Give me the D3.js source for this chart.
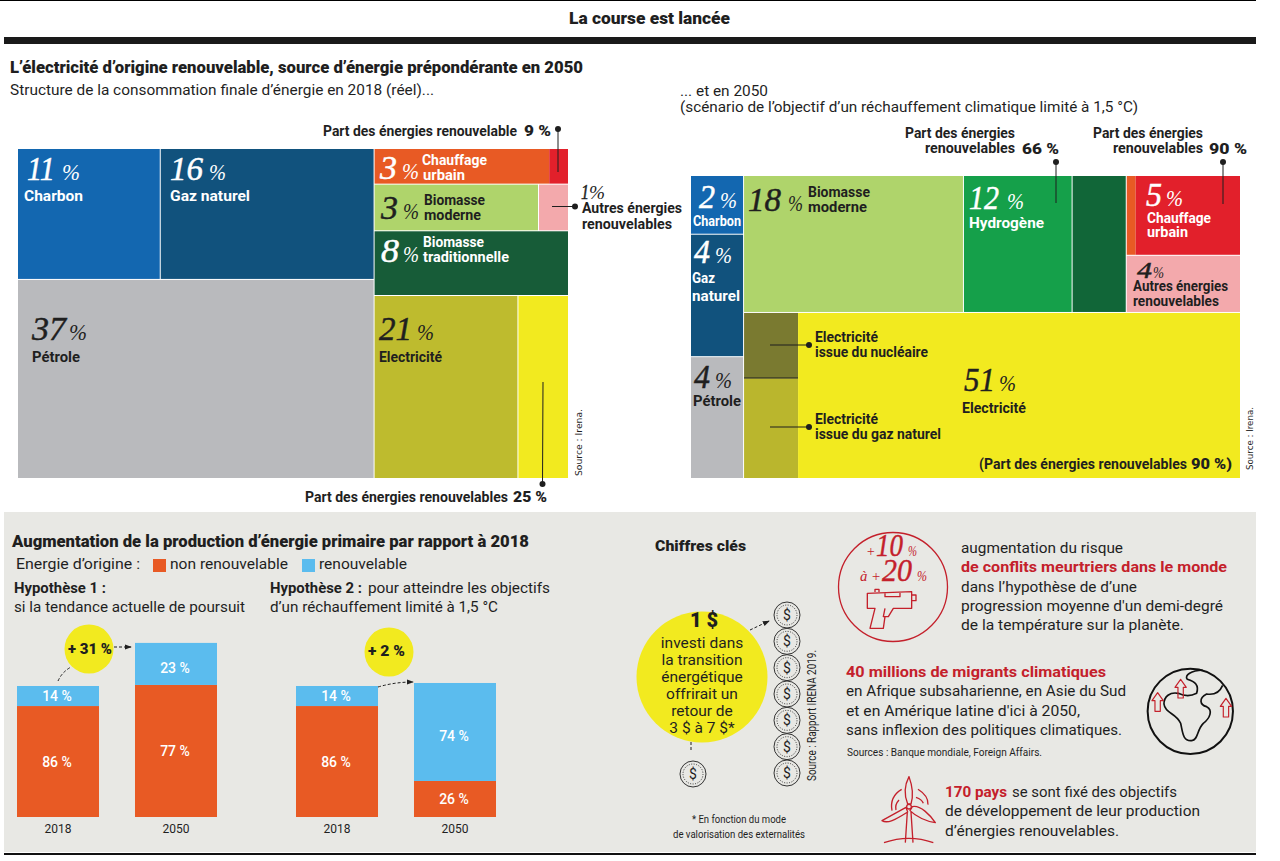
<!DOCTYPE html>
<html>
<head>
<meta charset="utf-8">
<script src="https://cdn.jsdelivr.net/npm/d3@7"></script>
<style>
  body { margin: 0; background: #fff; }
  text { font-family: Roboto, sans-serif; }
</style>
</head>
<body>
<script>
// treemap 2018: paths give the nesting, areas are shares of the drawn surface
const paths2018 = [
  '/r/left/top/charbon', '/r/left/top/gaz', '/r/left/petrole',
  '/r/right/chauffage/chauffage', '/r/right/chauffage/chauffageRen',
  '/r/right/biomasse/moderne', '/r/right/biomasse/autres',
  '/r/right/traditionnelle',
  '/r/right/elec/electricite', '/r/right/elec/electriciteRen'
];
const areas2018 = [10.28, 15.4, 39.05, 3.44, 0.37, 4.22, 0.77, 6.92, 14.48, 5.09];
const colors2018 = ['#1367b0', '#11527d', '#b9babd', '#e85a24', '#e2202b', '#afd46b', '#f3a9ac', '#175c38', '#bebb2e', '#f2ea1f'];

// treemap 2050
const paths2050 = [
  '/r/col1/charbon', '/r/col1/gaz', '/r/col1/petrole',
  '/r/col2/top/biomasse', '/r/col2/top/hydrogene', '/r/col2/top/hydrogeneNon',
  '/r/col2/top/last/chauffage/chauffageNon', '/r/col2/top/last/chauffage/chauffageRen', '/r/col2/top/last/autres',
  '/r/col2/bottom/olive/nucleaire', '/r/col2/bottom/olive/gazNaturel', '/r/col2/bottom/electricite'
];
const areas2050 = [1.87, 3.9, 3.88, 18.07, 8.93, 4.45, 0.43, 5.04, 3.92, 2.13, 3.26, 44.12];
const colors2050 = ['#1367b0', '#11527d', '#b9babd', '#afd46b', '#15a04a', '#116638', '#e85a24', '#e2202b', '#f3a9ac', '#7a7a30', '#bab62d', '#f2ea1f'];

// printed percentages
const shares2018 = {charbon: 11, gaz: 16, petrole: 37, chauffage: 3, moderne: 3, autres: 1, traditionnelle: 8, electricite: 21};
const shares2050 = {charbon: 2, gaz: 4, petrole: 4, biomasse: 18, hydrogene: 12, chauffage: 5, autres: 4, electricite: 51};

// stacked bars, index 2018 = 100
const years = ['2018', '2050'];
const hypo1NonRen = [84.7, 100.8];
const hypo1Ren = [15.3, 32.1];
const hypo2NonRen = [84.7, 27.5];
const hypo2Ren = [15.3, 74.8];
const hypo1NonRenLabels = [86, 77];
const hypo1RenLabels = [14, 23];
const hypo2NonRenLabels = [86, 26];
const hypo2RenLabels = [14, 74];

const coinsColumn = [1, 2, 3, 4, 5, 6, 7];

const width = 1280;
const height = 861;
const ink = '#1f1f1f';
const red = '#c4202b';
const orange = '#e85a24';
const sky = '#5bbcee';
const sun = '#f2ea1f';
const panel = '#e8e8e4';
const narrow = '"Liberation Sans Narrow", Roboto, sans-serif';

const svg = d3.select('body').append('svg')
  .attr('width', width)
  .attr('height', height)
  .style('display', 'block');

svg.append('defs').append('marker')
  .attr('id', 'head')
  .attr('viewBox', '0 0 8 8')
  .attr('refX', 7)
  .attr('refY', 4)
  .attr('markerWidth', 7)
  .attr('markerHeight', 7)
  .attr('orient', 'auto')
  .append('path')
  .attr('d', 'M0,1 L8,4 L0,7 Z')
  .attr('fill', ink);

function label(str, x, y, len, opts = {}) {
  const t = (opts.parent || svg).append('text')
    .attr('x', x)
    .attr('y', y)
    .attr('fill', opts.fill || ink)
    .attr('font-size', opts.size || 14)
    .attr('font-weight', opts.weight || 400)
    .attr('text-anchor', opts.anchor || 'start')
    .text(str);
  if (opts.family) t.style('font-family', opts.family);
  if (opts.italic) t.attr('font-style', 'italic');
  if (len) t.attr('textLength', len).attr('lengthAdjust', 'spacingAndGlyphs');
  return t;
}

// big italic figure followed by a thin percent sign
function figure(n, x, y, len, pctX, pctLen, fill, size = 33, pctSize = 24) {
  label(n, x, y, len, {fill, size, italic: true, family: '"Liberation Serif", serif'})
    .attr('stroke', fill)
    .attr('stroke-width', 0.5);
  label('%', pctX, y, pctLen, {fill, size: pctSize, italic: true, family: '"Liberation Serif", serif'});
}

function leaderDot(x1, y1, x2, y2) {
  svg.append('line')
    .attr('x1', x1).attr('y1', y1).attr('x2', x2).attr('y2', y2)
    .attr('stroke', ink)
    .attr('stroke-width', 1);
  svg.append('circle')
    .attr('cx', x2).attr('cy', y2).attr('r', 3)
    .attr('fill', ink);
}

function drawTreemap(paths, areas, colors, w, h, x, y) {
  const rows = paths.map((p, i) => ({path: p, area: areas[i], color: colors[i], order: i}));
  const root = d3.stratify().path(d => d.path)(rows)
    .sum(d => (d && d.area) || 0)
    // stratify puts implied parents last, put everything back in reading order
    .sort((a, b) => d3.min(a.leaves(), l => l.data.order) - d3.min(b.leaves(), l => l.data.order));
  d3.treemap()
    .tile(d3.treemapSliceDice)
    .size([w, h])
    .paddingInner(d => /(chauffage|olive|bottom)$/.test(d.id) ? 0 : 1)(root);
  svg.append('g')
    .attr('transform', `translate(${x},${y})`)
    .selectAll('rect')
    .data(root.leaves())
    .join('rect')
    .attr('x', d => d.x0)
    .attr('y', d => d.y0)
    .attr('width', d => d.x1 - d.x0)
    .attr('height', d => d.y1 - d.y0)
    .attr('fill', d => d.data.color);
}

// header
svg.append('rect').attr('x', 0).attr('y', 0).attr('width', 1256).attr('height', 1).attr('fill', '#000');
svg.append('rect').attr('x', 4).attr('y', 37).attr('width', 1252).attr('height', 7).attr('fill', '#1a1a1a');
label('La course est lancée', 569, 24, 161, {size: 16, weight: 900});
label('L’électricité d’origine renouvelable, source d’énergie prépondérante en 2050', 10, 73, 573, {size: 16, weight: 900});
label('Structure de la consommation finale d’énergie en 2018 (réel)...', 10, 95, 424, {size: 15});
label('... et en 2050', 680, 96, 88, {size: 15});
label('(scénario de l’objectif d’un réchauffement climatique limité à 1,5 °C)', 680, 112, 458, {size: 15});

// treemaps
drawTreemap(paths2018, areas2018, colors2018, 550, 329, 18, 149);
drawTreemap(paths2050, areas2050, colors2050, 549, 302, 691, 176);
svg.append('line').attr('x1', 744).attr('x2', 798).attr('y1', 378).attr('y2', 378).attr('stroke', ink);

const cond = {size: 15, weight: 700, family: narrow};
const white = {size: 15, weight: 700, fill: '#fff', family: narrow};
const pctBold = {size: 15, weight: 900};

// labels 2018
label('Part des énergies renouvelable', 323, 136, 194, cond);
label('9 %', 524, 136, 27, pctBold);
leaderDot(558, 172, 558, 129);
figure(shares2018.charbon, 27, 180, 28, 62, 18, '#fff');
label('Charbon', 24, 201, 59, white);
figure(shares2018.gaz, 170, 180, 33, 209, 17, '#fff');
label('Gaz naturel', 170, 201, 80, white);
figure(shares2018.chauffage, 380, 179, 17, 402, 17, '#fff');
label('Chauffage', 422, 165, 65, white);
label('urbain', 423, 180, 42, white);
figure(shares2018.moderne, 381, 219, 17, 403, 16, ink);
label('Biomasse', 424, 205, 61, cond);
label('moderne', 424, 220, 57, cond);
figure(shares2018.autres, 581, 199, 8, 589, 16, ink, 21, 18);
label('Autres énergies', 582, 213, 100, cond);
label('renouvelables', 582, 229, 90, cond);
leaderDot(552, 206.5, 575, 206.5);
figure(shares2018.traditionnelle, 381, 262, 18, 403, 16, '#fff');
label('Biomasse', 423, 247, 61, white);
label('traditionnelle', 423, 262, 86, white);
figure(shares2018.petrole, 32, 340, 34, 69, 18, ink);
label('Pétrole', 32, 362, 48, cond);
figure(shares2018.electricite, 379, 340, 33, 417, 17, ink);
label('Electricité', 379, 362, 63, cond);
leaderDot(543, 382, 542.5, 484);
label('Part des énergies renouvelables', 305, 502, 203, cond);
label('25 %', 513, 502, 34, pctBold);
label('Source : Irena.', 0, 0, 67, {size: 9.5, family: '"DejaVu Sans", sans-serif'})
  .attr('transform', 'translate(582,476) rotate(-90)');

// labels 2050
label('Part des énergies', 905, 138, 110, cond);
label('renouvelables', 925, 153, 90, cond);
label('66 %', 1022, 154, 37, pctBold);
leaderDot(1056, 203, 1056, 162);
label('Part des énergies', 1093, 138, 110, cond);
label('renouvelables', 1113, 153, 90, cond);
label('90 %', 1209, 154, 38, pctBold);
leaderDot(1223, 204, 1223, 162);
figure(shares2050.charbon, 699, 208, 16, 720, 17, '#fff');
label('Charbon', 693, 226, 48, white);
figure(shares2050.gaz, 694, 263, 16, 715, 17, '#fff');
label('Gaz', 692, 283, 23, white);
label('naturel', 692, 301, 48, white);
figure(shares2050.petrole, 694, 388, 16, 715, 17, ink);
label('Pétrole', 693, 406, 48, cond);
figure(shares2050.biomasse, 748, 211, 33, 788, 15, ink);
label('Biomasse', 808, 197, 62, cond);
label('moderne', 808, 212, 59, cond);
figure(shares2050.hydrogene, 969, 209, 30, 1007, 17, '#fff');
label('Hydrogène', 969, 228, 75, {size: 15, weight: 700, fill: '#fff'});
figure(shares2050.chauffage, 1146, 206, 16, 1166, 17, '#fff');
label('Chauffage', 1147, 223, 64, {size: 15, weight: 700, fill: '#fff'});
label('urbain', 1147, 237, 41, {size: 15, weight: 700, fill: '#fff'});
figure(shares2050.autres, 1137, 278, 15, 1153, 11, ink, 24, 16);
label('Autres énergies', 1133, 291, 95, cond);
label('renouvelables', 1133, 306, 86, cond);
leaderDot(770, 345, 809, 345);
label('Electricité', 815, 342, 63, cond);
label('issue du nucléaire', 815, 357, 113, cond);
leaderDot(770, 427, 809, 427);
label('Electricité', 815, 424, 63, cond);
label('issue du gaz naturel', 815, 439, 126, cond);
figure(shares2050.electricite, 964, 391, 31, 999, 17, ink);
label('Electricité', 962, 413, 64, cond);
label('(Part des énergies renouvelables', 979, 469, 208, cond);
label('90 %)', 1191, 469, 41, pctBold);
label('Source : Irena.', 0, 0, 63, {size: 9.5, family: '"DejaVu Sans", sans-serif'})
  .attr('transform', 'translate(1253,470) rotate(-90)');

// bottom panel
svg.append('rect').attr('x', 4).attr('y', 512).attr('width', 1252).attr('height', 340).attr('fill', panel);
svg.append('rect').attr('x', 4).attr('y', 853).attr('width', 1252).attr('height', 2).attr('fill', '#111');

label('Augmentation de la production d’énergie primaire par rapport à 2018', 12, 547, 517, {size: 16, weight: 900});
label('Energie d’origine :', 16, 569, 124, {size: 15});
const legend = svg.append('g');
legend.selectAll('rect')
  .data([[153, orange], [302, sky]])
  .join('rect')
  .attr('x', d => d[0]).attr('y', 559)
  .attr('width', 13).attr('height', 13)
  .attr('fill', d => d[1]);
label('non renouvelable', 170, 569, 118, {size: 15});
label('renouvelable', 319, 569, 88, {size: 15});
label('Hypothèse 1 :', 14, 593, 92, {size: 15, weight: 700});
label('si la tendance actuelle de poursuit', 14, 612, 231, {size: 15});
label('Hypothèse 2 :', 270, 593, 92, {size: 15, weight: 700});
label('pour atteindre les objectifs', 368, 593, 182, {size: 15});
label('d’un réchauffement limité à 1,5 °C', 270, 612, 228, {size: 15});

const yScale = d3.scaleLinear([0, 100], [817, 686]);

function drawBars(range, nonRen, ren, nonRenLabels, renLabels) {
  const xScale = d3.scaleBand(years, range).paddingInner(0.305);
  const rows = years.map((y, i) => ({year: y, nonRen: nonRen[i], ren: ren[i]}));
  const series = d3.stack().keys(['nonRen', 'ren'])(rows);
  const g = svg.append('g');

  g.selectAll('g')
    .data(series)
    .join('g')
    .attr('fill', d => d.key == 'nonRen' ? orange : sky)
    .selectAll('rect')
    .data(d => d)
    .join('rect')
    .attr('x', d => xScale(d.data.year))
    .attr('y', d => yScale(d[1]))
    .attr('width', xScale.bandwidth())
    .attr('height', d => yScale(d[0]) - yScale(d[1]));

  g.selectAll('text.val')
    .data(series.flatMap(s => s.map((d, i) => ({
      year: d.data.year,
      mid: (yScale(d[0]) + yScale(d[1])) / 2,
      text: (s.key == 'nonRen' ? nonRenLabels : renLabels)[i],
      // the printed figure sits a little low in the tall upper blocks
      shift: s.key == 'ren' && i == 1 ? 4 : 0
    }))))
    .join('text')
    .attr('class', 'val')
    .attr('x', d => xScale(d.year) + xScale.bandwidth() / 2 - 1)
    .attr('y', d => d.mid + 5 + d.shift)
    .attr('text-anchor', 'middle')
    .attr('fill', '#fff')
    .attr('font-size', 14)
    .attr('font-weight', 500)
    .text(d => `${d.text} %`);

  svg.append('g')
    .attr('transform', `translate(0,${yScale(0)})`)
    .call(d3.axisBottom(xScale).tickSize(0).tickPadding(7.5))
    .call(a => a.select('.domain').remove())
    .call(a => a.selectAll('text').attr('font-size', 12).attr('fill', ink).style('font-family', 'Roboto, sans-serif'));
}

drawBars([17, 217], hypo1NonRen, hypo1Ren, hypo1NonRenLabels, hypo1RenLabels);
drawBars([296, 496], hypo2NonRen, hypo2Ren, hypo2NonRenLabels, hypo2RenLabels);

function dashedArrow(d, head = true) {
  const p = svg.append('path')
    .attr('d', d)
    .attr('fill', 'none')
    .attr('stroke', ink)
    .attr('stroke-width', 1)
    .attr('stroke-dasharray', '3,2');
  if (head) p.attr('marker-end', 'url(#head)');
}

svg.append('circle').attr('cx', 89).attr('cy', 649).attr('r', 24.5).attr('fill', sun);
label('+ 31 %', 68, 653.5, 44, {size: 14, weight: 900});
svg.append('circle').attr('cx', 389).attr('cy', 652).attr('r', 24.5).attr('fill', sun);
label('+ 2 %', 368, 656, 37, {size: 14, weight: 900});
dashedArrow('M58,681 Q62,672 71,667', false);
dashedArrow('M114,647 L131,647');
dashedArrow('M378,687 Q395,682 413,682');

// chiffres clés
label('Chiffres clés', 655, 551, 91, {size: 15, weight: 900});
svg.append('circle').attr('cx', 702).attr('cy', 677).attr('r', 65.5).attr('fill', sun);
label('1 $', 704, 627, null, {size: 20, weight: 900, anchor: 'middle'});
const investLines = ['investi dans', 'la transition', 'énergétique', 'offrirait un', 'retour de', '3 $ à 7 $*'];
const lineScale = d3.scalePoint(investLines, [648, 733]);
svg.append('g').selectAll('text')
  .data(investLines)
  .join('text')
  .attr('x', 702)
  .attr('y', d => lineScale(d))
  .attr('text-anchor', 'middle')
  .attr('fill', ink)
  .attr('font-size', 15.5)
  .text(d => d);

function coin(g) {
  g.append('circle').attr('r', 13).attr('fill', panel).attr('stroke', ink).attr('stroke-width', 0.9);
  g.append('circle').attr('r', 10).attr('fill', 'none').attr('stroke', ink).attr('stroke-width', 0.9).attr('stroke-dasharray', '1,1.5');
  g.append('text').attr('y', 5).attr('text-anchor', 'middle').attr('font-size', 14).attr('fill', ink).text('$');
}
const coinScale = d3.scalePoint(coinsColumn, [615, 773]);
svg.append('g').selectAll('g')
  .data(coinsColumn)
  .join('g')
  .attr('transform', d => `translate(787,${coinScale(d)})`)
  .each(function() { coin(d3.select(this)); });
svg.append('g').attr('transform', 'translate(693,774)').call(coin);
dashedArrow('M750,630 L769,621');
dashedArrow('M691,742 L691,750', false);
label('Source : Rapport IRENA 2019.', 0, 0, 131, {size: 12.5})
  .attr('transform', 'translate(816,781) rotate(-90)');
label('* En fonction du mode', 692, 823, 94, {size: 11});
label('de valorisation des externalités', 673, 838, 132, {size: 11});

// right column texts
const body = {size: 15};
const bodyRed = {size: 15, weight: 700, fill: red};
label('augmentation du risque', 961, 553, 162, body);
label('de conflits meurtriers dans le monde', 961, 572, 266, bodyRed);
label('dans l’hypothèse de d’une', 961, 592, 176, body);
label('progression moyenne d\'un demi-degré', 961, 611, 262, body);
label('de la température sur la planète.', 961, 630, 223, body);
label('40 millions de migrants climatiques', 846, 677, 260, bodyRed);
label('en Afrique subsaharienne, en Asie du Sud', 846, 696, 280, body);
label('et en Amérique latine d\'ici à 2050,', 846, 716, 234, body);
label('sans inflexion des politiques climatiques.', 846, 735, 276, body);
label('Sources : Banque mondiale, Foreign Affairs.', 847, 756, 195, {size: 11});
label('170 pays', 945, 797, 62, bodyRed);
label('se sont fixé des objectifs', 1012, 797, 165, body);
label('de développement de leur production', 945, 816, 255, body);
label('d’énergies renouvelables.', 945, 836, 174, body);

// gun badge
svg.append('circle').attr('cx', 893).attr('cy', 587).attr('r', 54.5)
  .attr('fill', 'none').attr('stroke', red).attr('stroke-width', 1.3);
const serif = '"Liberation Serif", serif';
label('+', 866, 556, null, {size: 14, italic: true, fill: red, family: serif});
label('10', 876, 556, 27, {size: 31, italic: true, fill: red, family: serif}).attr('stroke', red).attr('stroke-width', 0.4);
label('%', 908, 556, 9, {size: 14, italic: true, fill: red, family: serif});
label('à +', 860, 581, 21, {size: 15, italic: true, fill: red, family: serif});
label('20', 882, 581, 30, {size: 31, italic: true, fill: red, family: serif}).attr('stroke', red).attr('stroke-width', 0.4);
label('%', 917, 581, 10, {size: 14, italic: true, fill: red, family: serif});

// icons are traced in a 3x grid anchored on the panel corner
const icons = svg.append('g')
  .attr('transform', 'translate(830,510) scale(0.3333)')
  .attr('fill', 'none')
  .attr('stroke-linejoin', 'round');

icons.append('path')
  .attr('d', 'M112,250 L245,245 L245,295 L190,295 L175,320 L165,320 L160,355 L120,355 L135,295 L112,295 Z M135,246 V238 H147 V246 M165,250 V260 H210 V249 M245,255 H258 V272 H245 M165,295 L160,320 H175')
  .attr('stroke', red)
  .attr('stroke-width', 4);

icons.append('circle')
  .attr('cx', 1081).attr('cy', 604).attr('r', 128)
  .attr('stroke', '#111').attr('stroke-width', 6);
icons.append('path')
  .attr('d', 'M1118,480 C1085,482 1062,495 1072,508 C1095,515 1108,525 1100,550 C1085,558 1065,560 1045,550 C1020,545 1002,560 1002,582 C1005,610 1040,610 1052,640 C1058,665 1058,695 1085,692 C1105,690 1100,660 1120,640 C1140,625 1150,600 1130,590 C1110,585 1105,565 1130,552 C1150,555 1168,550 1178,526')
  .attr('stroke', '#111')
  .attr('stroke-width', 5);
const upArrow = (x, y) => `M${x},${y} l17,24 h-9 v32 h-16 v-32 h-9 z`;
icons.selectAll('path.up')
  .data([[983, 548], [1052, 508], [1188, 565]])
  .join('path')
  .attr('class', 'up')
  .attr('d', d => upArrow(d[0], d[1]))
  .attr('stroke', red)
  .attr('stroke-width', 3.5);

icons.append('path')
  .attr('d', 'M233,882 C220,850 224,825 237,800 C248,830 250,860 243,882 Z M228,892 L156,932 C172,942 195,930 233,906 Z M247,890 C272,885 300,915 316,938 C290,935 258,920 240,902 Z M232,906 L226,998 M243,906 L249,998 M162,998 Q237,972 310,998 M215,838 Q178,860 186,902 M264,838 Q296,858 294,884 M207,870 Q194,884 198,900 M258,862 Q276,868 280,880')
  .attr('stroke', red)
  .attr('stroke-width', 4);
icons.append('circle').attr('cx', 237).attr('cy', 890).attr('r', 7).attr('stroke', red).attr('stroke-width', 4);
</script>
</body>
</html>
